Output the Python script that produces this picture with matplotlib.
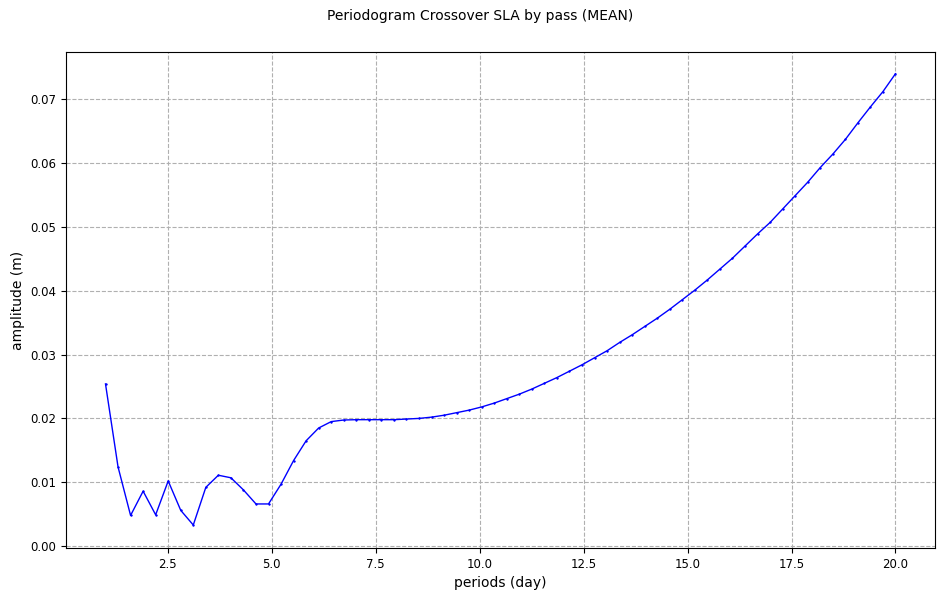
import numpy as np
import matplotlib
matplotlib.use("Agg")
import matplotlib.pyplot as plt

periods = np.linspace(1.0, 20.0, 64)
amplitude = [
    0.0254, 0.0124, 0.0048, 0.0086, 0.0049, 0.0102, 0.0056, 0.0033,
    0.0092, 0.0111, 0.0107, 0.0088, 0.0066, 0.0066, 0.0097, 0.0134,
    0.0165, 0.0185, 0.0195, 0.01975, 0.0198, 0.0198, 0.0198, 0.0198,
    0.0199, 0.0200, 0.0202, 0.0205, 0.0209, 0.0213, 0.0218, 0.0224,
    0.0231, 0.0238, 0.0246, 0.0255, 0.0264, 0.0274, 0.0284, 0.0295,
    0.0306, 0.0319, 0.0331, 0.0344, 0.0357, 0.0371, 0.0386, 0.0401,
    0.0417, 0.0434, 0.0451, 0.0470, 0.0489, 0.0507, 0.0528, 0.0549,
    0.0570, 0.0593, 0.0614, 0.0637, 0.0663, 0.0688, 0.0712, 0.0740,
]

fig = plt.figure(figsize=(9.45, 5.99), dpi=100)
ax = fig.add_axes([66/945, 1-548/599, (935-66)/945, (548-52)/599])
ax.plot(periods, amplitude, color="blue", linewidth=1, marker="+", markersize=2)
ax.grid(True, linestyle="--", color="#b0b0b0", linewidth=0.8)
ax.set_ylim(-0.0003, 0.0774)
ax.set_xlabel("periods (day)", fontsize=10)
ax.set_ylabel("amplitude (m)", fontsize=10)
ax.tick_params(labelsize=8.5)
ax.set_xticks([2.5, 5.0, 7.5, 10.0, 12.5, 15.0, 17.5, 20.0])
fig.suptitle("Periodogram Crossover SLA by pass (MEAN)", fontsize=10,
             x=480/945, y=1-16/599, va="center")
fig.savefig("out.png", dpi=100)
